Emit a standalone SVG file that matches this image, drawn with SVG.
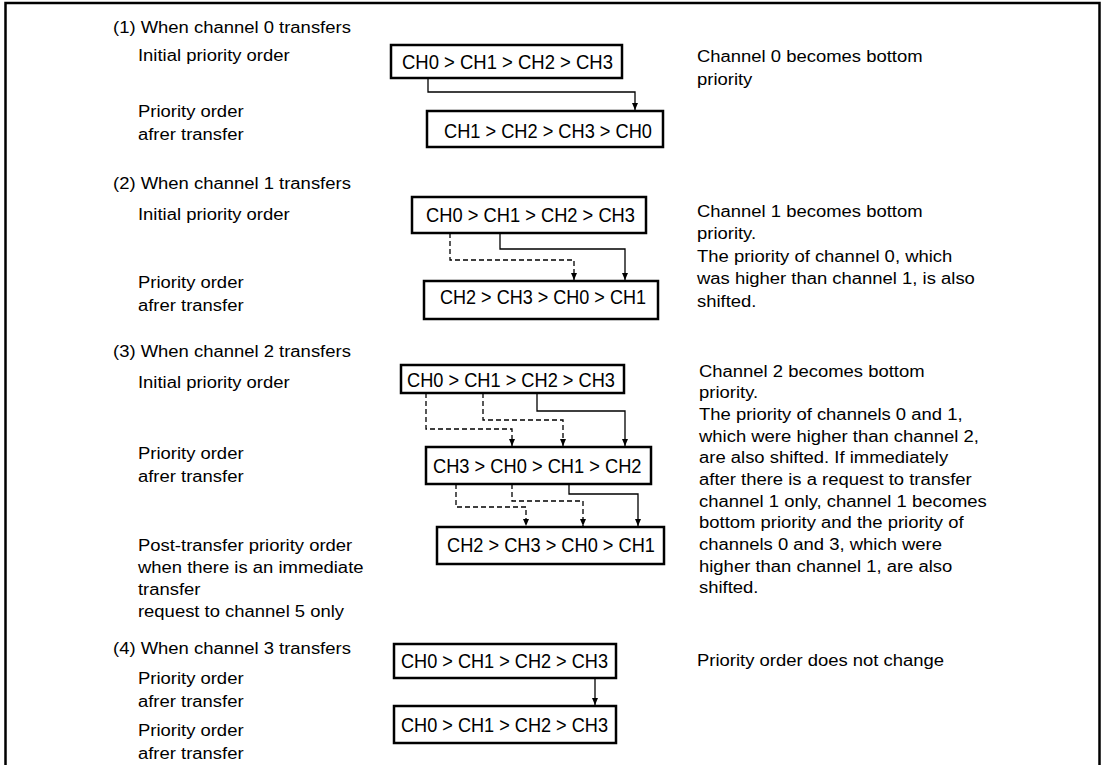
<svg xmlns="http://www.w3.org/2000/svg" width="1104" height="765" viewBox="0 0 1104 765">
<style>
.box{fill:#fff;stroke:#000;stroke-width:2.5}
.bt{font-family:"Liberation Sans",Arial,sans-serif;font-size:19.5px;fill:#000}
.lt{font-family:"Liberation Sans",Arial,sans-serif;font-size:15.6px;fill:#000}
.c{fill:none;stroke:#000;stroke-width:1.3}
.d{stroke-dasharray:5 3}
</style>
<defs>
<marker id="ah" viewBox="0 0 7 6" refX="7" refY="3" markerWidth="7" markerHeight="6" markerUnits="userSpaceOnUse" orient="auto">
<path d="M0,0 L7,3 L0,6 z" fill="#000"/>
</marker>
</defs>
<rect width="1104" height="765" fill="#fff"/>
<path d="M5.5 765 V3 H1099.5 V765" fill="none" stroke="#000" stroke-width="2.5"/>

<g id="labels-left">
<g transform="translate(113 0) scale(1.183 1)">
<text class="lt" x="0" y="33.5">(1) When channel 0 transfers</text>
<text class="lt" x="21.1" y="61.5">Initial priority order</text>
<text class="lt" x="21.1" y="117">Priority order</text>
<text class="lt" x="21.1" y="140">afrer transfer</text>
<text class="lt" x="0" y="189.5">(2) When channel 1 transfers</text>
<text class="lt" x="21.1" y="220">Initial priority order</text>
<text class="lt" x="21.1" y="288.5">Priority order</text>
<text class="lt" x="21.1" y="311.5">afrer transfer</text>
<text class="lt" x="0" y="357.5">(3) When channel 2 transfers</text>
<text class="lt" x="21.1" y="388">Initial priority order</text>
<text class="lt" x="21.1" y="459">Priority order</text>
<text class="lt" x="21.1" y="482">afrer transfer</text>
<text class="lt" x="21.1" y="551">Post-transfer priority order</text>
<text class="lt" x="21.1" y="573">when there is an immediate</text>
<text class="lt" x="21.1" y="595">transfer</text>
<text class="lt" x="21.1" y="617">request to channel 5 only</text>
<text class="lt" x="0" y="654">(4) When channel 3 transfers</text>
<text class="lt" x="21.1" y="684">Priority order</text>
<text class="lt" x="21.1" y="707">afrer transfer</text>
<text class="lt" x="21.1" y="736">Priority order</text>
<text class="lt" x="21.1" y="759">afrer transfer</text>
</g>
</g>

<g id="labels-right">
<g transform="translate(697 0) scale(1.183 1)">
<text class="lt" x="0" y="62">Channel 0 becomes bottom</text>
<text class="lt" x="0" y="85">priority</text>
<text class="lt" x="0" y="217">Channel 1 becomes bottom</text>
<text class="lt" x="0" y="239.5">priority.</text>
<text class="lt" x="0" y="262">The priority of channel 0, which</text>
<text class="lt" x="0" y="284.5">was higher than channel 1, is also</text>
<text class="lt" x="0" y="307">shifted.</text>
<text class="lt" x="1.7" y="377">Channel 2 becomes bottom</text>
<text class="lt" x="1.7" y="398.5">priority.</text>
<text class="lt" x="1.7" y="420">The priority of channels 0 and 1,</text>
<text class="lt" x="1.7" y="441.7">which were higher than channel 2,</text>
<text class="lt" x="1.7" y="463.3">are also shifted. If immediately</text>
<text class="lt" x="1.7" y="485">after there is a request to transfer</text>
<text class="lt" x="1.7" y="506.7">channel 1 only, channel 1 becomes</text>
<text class="lt" x="1.7" y="528.3">bottom priority and the priority of</text>
<text class="lt" x="1.7" y="550">channels 0 and 3, which were</text>
<text class="lt" x="1.7" y="571.7">higher than channel 1, are also</text>
<text class="lt" x="1.7" y="593.3">shifted.</text>
<text class="lt" x="0" y="666">Priority order does not change</text>
</g>
</g>

<g id="connectors">
<path class="c" d="M428 78 V92 H635 V110" marker-end="url(#ah)"/>
<path class="c d" d="M450 233 V260 H574 V280" marker-end="url(#ah)"/>
<path class="c" d="M500 233 V249 H625 V280" marker-end="url(#ah)"/>
<path class="c d" d="M426 393 V429 H512 V446" marker-end="url(#ah)"/>
<path class="c d" d="M483 393 V420 H563 V446" marker-end="url(#ah)"/>
<path class="c" d="M537 393 V411 H625 V446" marker-end="url(#ah)"/>
<path class="c d" d="M456 484 V507 H526 V526" marker-end="url(#ah)"/>
<path class="c d" d="M512 484 V501 H583 V526" marker-end="url(#ah)"/>
<path class="c" d="M569 484 V494 H638 V526" marker-end="url(#ah)"/>
<path class="c" d="M595 678 V705" marker-end="url(#ah)"/>
</g>

<g id="s1-initial">
<rect class="box" x="391" y="45" width="231" height="33"/>
<text class="bt" x="402" y="69" textLength="211" lengthAdjust="spacingAndGlyphs">CH0 &gt; CH1 &gt; CH2 &gt; CH3</text>
</g>
<g id="s1-after">
<rect class="box" x="427" y="111" width="236" height="36"/>
<text class="bt" x="444" y="138" textLength="208" lengthAdjust="spacingAndGlyphs">CH1 &gt; CH2 &gt; CH3 &gt; CH0</text>
</g>
<g id="s2-initial">
<rect class="box" x="412" y="197" width="234" height="36"/>
<text class="bt" x="426" y="221.5" textLength="209" lengthAdjust="spacingAndGlyphs">CH0 &gt; CH1 &gt; CH2 &gt; CH3</text>
</g>
<g id="s2-after">
<rect class="box" x="424" y="281" width="234" height="38"/>
<text class="bt" x="440" y="304" textLength="206" lengthAdjust="spacingAndGlyphs">CH2 &gt; CH3 &gt; CH0 &gt; CH1</text>
</g>
<g id="s3-initial">
<rect class="box" x="401" y="365" width="223" height="28"/>
<text class="bt" x="407" y="387" textLength="208" lengthAdjust="spacingAndGlyphs">CH0 &gt; CH1 &gt; CH2 &gt; CH3</text>
</g>
<g id="s3-after">
<rect class="box" x="426" y="447" width="225" height="37"/>
<text class="bt" x="433" y="473" textLength="208.5" lengthAdjust="spacingAndGlyphs">CH3 &gt; CH0 &gt; CH1 &gt; CH2</text>
</g>
<g id="s3-post">
<rect class="box" x="437" y="527" width="227" height="37"/>
<text class="bt" x="447" y="552" textLength="208" lengthAdjust="spacingAndGlyphs">CH2 &gt; CH3 &gt; CH0 &gt; CH1</text>
</g>
<g id="s4-initial">
<rect class="box" x="394" y="644" width="222" height="34"/>
<text class="bt" x="401" y="667.5" textLength="207" lengthAdjust="spacingAndGlyphs">CH0 &gt; CH1 &gt; CH2 &gt; CH3</text>
</g>
<g id="s4-after">
<rect class="box" x="394" y="706" width="222" height="37"/>
<text class="bt" x="401" y="731.5" textLength="207" lengthAdjust="spacingAndGlyphs">CH0 &gt; CH1 &gt; CH2 &gt; CH3</text>
</g>
</svg>
